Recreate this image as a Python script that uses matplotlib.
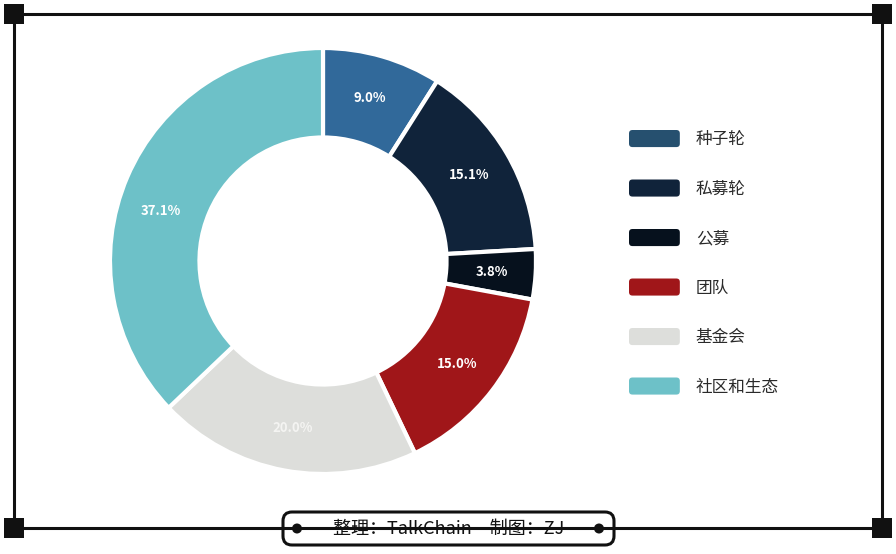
import matplotlib
matplotlib.use("Agg")
import numpy as np
import matplotlib.pyplot as plt
import matplotlib.transforms as mtransforms
from matplotlib.patches import FancyBboxPatch, Rectangle, Circle
from matplotlib.lines import Line2D
from matplotlib.legend_handler import HandlerPatch

plt.rcParams['font.family'] = ['Noto Sans CJK SC', 'DejaVu Sans']

# 数据
labels = ['种子轮', '私募轮', '公募', '团队', '基金会', '社区和生态']
values = [9.0, 15.1, 3.8, 15.0, 20.0, 37.1]
colors = ['#31699a', '#10233a', '#06111d', '#a01619', '#dddedb', '#6dc1c8']
legend_colors = ['#26506f', '#10233a', '#06111d', '#a01619', '#dddedb', '#6dc1c8']
credit = '整理：TalkChain\u3000制图：ZJ'

W, H = 896, 554
fig = plt.figure(figsize=(W / 100, H / 100), dpi=100)
# 像素坐标（y 向下）
px = mtransforms.Affine2D().scale(1 / W, -1 / H).translate(0, 1) + fig.transFigure

# 环形图
cx, cy, r = 323, 261, 213
ax = fig.add_axes([(cx - r) / W, 1 - (cy + r) / H, 2 * r / W, 2 * r / H])
wedges, texts, autotexts = ax.pie(
    values, colors=colors, startangle=90, counterclock=False,
    autopct='%.1f%%', pctdistance=0.795, radius=1,
    wedgeprops=dict(width=0.42, edgecolor='white', linewidth=3),
    textprops=dict(color='white', fontsize=9.5, fontweight='bold'))
# 原图中最大扇区的标签略偏上
t = autotexts[-1]
x, y = t.get_position()
a = np.arctan2(y, x) + np.radians(6)
rr = np.hypot(x, y)
t.set_position((rr * np.cos(a), rr * np.sin(a)))
autotexts[4].set_color('#f4f4f2')

ax.set_xlim(-1, 1)
ax.set_ylim(-1, 1)
ax.set_aspect('equal')
ax.axis('off')


def rounded(legend, orig_handle, xdescent, ydescent, width, height, fontsize):
    return FancyBboxPatch((-xdescent, -ydescent), width, height,
                          boxstyle='round,pad=0,rounding_size=2.5')


handles = [Rectangle((0, 0), 1, 1, facecolor=c, edgecolor='none') for c in legend_colors]
fig.legend(handles, labels, loc='upper left', bbox_to_anchor=(629 / W, 1 - 130 / H),
           frameon=False, fontsize=12, handlelength=3.05, handleheight=1.2,
           handletextpad=0.95, labelspacing=1.88, borderpad=0, borderaxespad=0,
           handler_map={Rectangle: HandlerPatch(patch_func=rounded)},
           labelcolor='#2a2a2a')

# 边框
for (x0, y0, x1, y1) in [(14, 14, 882, 14), (14, 528, 882, 528),
                         (14, 14, 14, 528), (882, 14, 882, 528)]:
    fig.add_artist(Line2D([x0, x1], [y0, y1], color='#111111', lw=2.2,
                          transform=px, solid_capstyle='butt'))
for (x, y) in [(14, 14), (882, 14), (14, 528), (882, 528)]:
    fig.add_artist(Rectangle((x - 10, y - 10), 20, 20, facecolor='#111111',
                             edgecolor='none', transform=px))

# 底部署名
fig.add_artist(FancyBboxPatch((283, 512), 331, 33,
                              boxstyle='round,pad=0,rounding_size=9',
                              facecolor='white', edgecolor='#111111',
                              lw=2.2, transform=px))
for x in [297, 599]:
    fig.add_artist(Circle((x, 528.5), 5, facecolor='#111111', edgecolor='none', transform=px))
fig.text(449, 528.5, credit, transform=px, ha='center', va='center',
         fontsize=13, fontweight='medium', color='#111111')

fig.savefig('out.png', dpi=100, facecolor='white')
